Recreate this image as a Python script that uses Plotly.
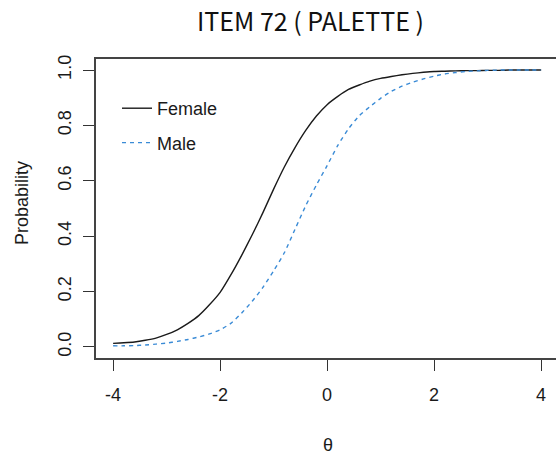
import plotly.graph_objects as go

theta = [round(-4.0 + 0.2 * i, 1) for i in range(41)]
female = [0.013, 0.015, 0.018, 0.024, 0.032, 0.045, 0.062, 0.085, 0.113, 0.152,
          0.197, 0.26, 0.33, 0.405, 0.485, 0.57, 0.65, 0.72, 0.782, 0.834,
          0.875, 0.905, 0.93, 0.946, 0.96, 0.97, 0.977, 0.983, 0.988, 0.992,
          0.995, 0.996, 0.997, 0.998, 0.998, 0.999, 0.999, 1.0, 1.0, 1.0, 1.0]
male = [0.004, 0.004, 0.005, 0.007, 0.010, 0.014, 0.020, 0.027, 0.036, 0.047,
        0.062, 0.085, 0.122, 0.165, 0.215, 0.275, 0.34, 0.425, 0.51, 0.585,
        0.655, 0.728, 0.788, 0.835, 0.868, 0.898, 0.923, 0.942, 0.956, 0.968,
        0.978, 0.986, 0.991, 0.995, 0.997, 0.999, 1.0, 1.0, 1.0, 1.0, 1.0]
x_ticks = [-4, -2, 0, 2, 4]
y_ticks = [0.0, 0.2, 0.4, 0.6, 0.8, 1.0]
y_ticklabels = ["0.0", "0.2", "0.4", "0.6", "0.8", "1.0"]

FONT = "Liberation Sans, Arial, sans-serif"
W, H = 556, 455
L, R, T, B = 96, 0, 59, 97
pw, ph = W - L - R, H - T - B

fig = go.Figure()
fig.add_trace(go.Scatter(x=theta, y=female, mode="lines", name="Female",
                         legendgroup="f", line_shape="spline",
                         line=dict(color="#1a1a1a", width=1.4, smoothing=0.6)))
fig.add_trace(go.Scatter(x=theta, y=male, mode="lines", name="Male",
                         legendgroup="m", line_shape="spline",
                         line=dict(color="#3a8bd6", width=1.4, dash="4px,4px",
                                   smoothing=0.6)))

axis_common = dict(showgrid=False, zeroline=False, showline=True,
                   linecolor="#444444", linewidth=1.6, ticks="outside",
                   ticklen=11, tickwidth=1.2, tickcolor="#333333",
                   tickfont=dict(family=FONT, size=18, color="#1a1a1a"))

fig.update_xaxes(range=[-4.32, -4.32 + pw / 53.5], tickvals=x_ticks,
                 ticktext=[str(v) for v in x_ticks], mirror=True,
                 ticklabelstandoff=9, **axis_common)
fig.update_yaxes(range=[-0.04, 1.04], tickvals=y_ticks, ticktext=y_ticklabels,
                 tickangle=-90, ticklabelstandoff=5, **axis_common)

fig.update_layout(
    width=W, height=H,
    margin=dict(l=L, r=R, t=T, b=B),
    plot_bgcolor="white", paper_bgcolor="white",
    showlegend=True,
    legend=dict(x=(117 - L) / pw, y=(358 - 90) / ph, xanchor="left", yanchor="top",
                bgcolor="rgba(0,0,0,0)", tracegroupgap=8,
                font=dict(family=FONT, size=18, color="#1a1a1a")),
    annotations=[
        dict(text="ITEM 72 ( PALETTE )", x=(310 - L) / pw, y=(358 - 20) / ph,
             xref="paper", yref="paper", showarrow=False, xanchor="center",
             yanchor="middle",
             font=dict(family="Noto Sans CJK KR", size=25, color="#111111")),
        dict(text="θ", x=(328 - L) / pw, y=(358 - 445) / ph, xref="paper",
             yref="paper", showarrow=False, xanchor="center", yanchor="middle",
             font=dict(family=FONT, size=18, color="#1a1a1a")),
        dict(text="Probability", x=(22 - L) / pw, y=(358 - 203) / ph,
             xref="paper", yref="paper", showarrow=False, xanchor="center",
             yanchor="middle", textangle=-90,
             font=dict(family=FONT, size=18, color="#1a1a1a")),
    ],
)

fig.write_html("out.html")
